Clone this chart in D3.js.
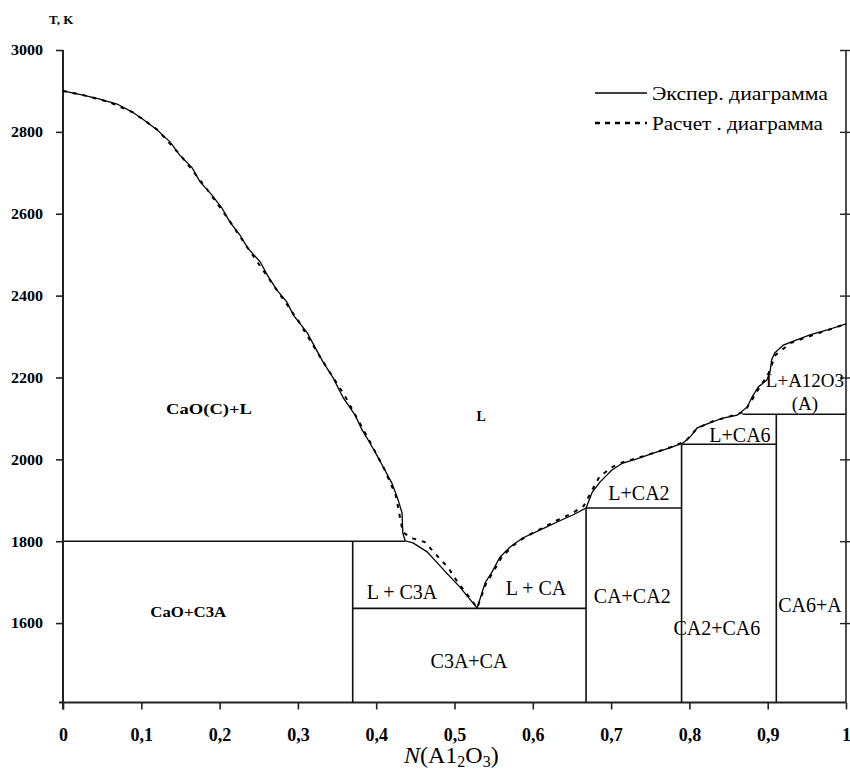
<!DOCTYPE html>
<html>
<head>
<meta charset="utf-8">
<script src="https://cdn.jsdelivr.net/npm/d3@7/dist/d3.min.js"></script>
<style>
  html, body { margin: 0; padding: 0; background: #fff; }
  svg { display: block; }
  text { font-family: "Liberation Serif", "Times New Roman", serif; fill: #000; }
</style>
</head>
<body>
<svg id="chart" width="850" height="771"></svg>
<script>
// Composition axis N(Al2O3) and temperature axis T, K
const nTicks = [0, 0.1, 0.2, 0.3, 0.4, 0.5, 0.6, 0.7, 0.8, 0.9, 1];
const nTickLabels = ["0", "0,1", "0,2", "0,3", "0,4", "0,5", "0,6", "0,7", "0,8", "0,9", "1"];
const tTicks = [1600, 1800, 2000, 2200, 2400, 2600, 2800, 3000];
const tMin = 1406, tMax = 3000;

// Experimental liquidus [N, T]
const experN = [0, 0.0255, 0.047, 0.069, 0.088, 0.102, 0.120, 0.137, 0.149, 0.165, 0.175, 0.190, 0.203, 0.213, 0.226, 0.236, 0.252, 0.261, 0.273, 0.286, 0.294, 0.312, 0.319, 0.332, 0.345, 0.358, 0.373, 0.382, 0.392, 0.402, 0.411, 0.420, 0.428, 0.433, 0.434, 0.437, 0.447, 0.465, 0.478, 0.490, 0.507, 0.517, 0.529,
  0.539, 0.548, 0.558, 0.571, 0.587, 0.609, 0.631, 0.651, 0.668, 0.676, 0.686, 0.701, 0.715, 0.733, 0.754, 0.775, 0.792, 0.801, 0.810, 0.826, 0.843, 0.861, 0.874, 0.880, 0.888, 0.899, 0.903, 0.905, 0.909, 0.920, 0.937, 0.954, 0.976, 1.0];
const experT = [2900, 2890, 2880, 2868, 2849, 2831, 2805, 2775, 2743, 2712, 2678, 2646, 2614, 2580, 2548, 2516, 2482, 2450, 2414, 2384, 2353, 2309, 2284, 2238, 2199, 2150, 2108, 2072, 2040, 2006, 1974, 1942, 1901, 1869, 1820, 1801, 1796, 1774, 1747, 1722, 1688, 1664, 1637,
  1698, 1725, 1761, 1786, 1808, 1827, 1847, 1864, 1881, 1920, 1945, 1974, 1991, 2001, 2015, 2028, 2040, 2055, 2077, 2089, 2101, 2108, 2128, 2152, 2177, 2194, 2213, 2243, 2260, 2279, 2292, 2304, 2316, 2331];

// Calculated liquidus [N, T]
const calcN = [0, 0.03, 0.06, 0.09, 0.12, 0.15, 0.18, 0.21, 0.24, 0.27, 0.30, 0.33, 0.36, 0.39, 0.41, 0.425, 0.434, 0.445, 0.462, 0.479, 0.492, 0.504, 0.517, 0.529,
  0.54, 0.55, 0.56, 0.575, 0.59, 0.61, 0.63, 0.65, 0.665, 0.675, 0.685, 0.70, 0.715, 0.735, 0.755, 0.775, 0.795, 0.81, 0.83, 0.85, 0.87, 0.88, 0.89, 0.90, 0.91, 0.93, 0.96, 1.0];
const calcT = [2900, 2888, 2872, 2847, 2806, 2743, 2670, 2590, 2505, 2422, 2340, 2245, 2155, 2050, 1978, 1912, 1822, 1808, 1798, 1762, 1735, 1700, 1668, 1637,
  1695, 1727, 1760, 1790, 1810, 1830, 1850, 1868, 1886, 1922, 1957, 1980, 1993, 2004, 2016, 2029, 2044, 2076, 2093, 2104, 2116, 2145, 2178, 2205, 2255, 2285, 2305, 2331];

// Phase boundaries: [N1, T1, N2, T2]
const boundaries = [
  [0, 1800, 0.437, 1800],
  [0.37, 1800, 0.37, tMin],
  [0.37, 1636, 0.668, 1636],
  [0.668, 1881, 0.668, tMin],
  [0.668, 1881, 0.79, 1881],
  [0.79, 2037, 0.79, tMin],
  [0.79, 2037, 0.911, 2037],
  [0.911, 2110, 0.911, tMin],
  [0.868, 2110, 1, 2110]
];

// Phase field labels: [text, N, T, size, width]
const fieldLabels = [
  ["CaO(C)+L", 0.1865, 2123, 15, 86],
  ["L", 0.534, 2106, 14, null],
  ["CaO+C3A", 0.160, 1627, 15, 76],
  ["L + C3A", 0.433, 1676, 20, null],
  ["L + CA", 0.604, 1686, 20, null],
  ["C3A+CA", 0.5185, 1507, 20, null],
  ["L+CA2", 0.7356, 1918, 20, null],
  ["CA+CA2", 0.727, 1666, 20, null],
  ["L+CA6", 0.8646, 2059, 20, null],
  ["CA2+CA6", 0.835, 1588, 20, null],
  ["L+A12O3", 0.9476, 2194, 19, null],
  ["(A)", 0.9476, 2138, 19, null],
  ["CA6+A", 0.954, 1644, 20, null]
];

const legendItems = [
  { label: "Экспер. диаграмма", dash: null },
  { label: "Расчет . диаграмма", dash: "5,5" }
];

const svg = d3.select("#chart");
const x = d3.scaleLinear().domain([0, 1]).range([63, 846]);
const y = d3.scaleLinear().domain([tMin, tMax]).range([702.5, 50]);

// Left temperature axis
const yAxis = d3.axisLeft(y).tickValues(tTicks).tickSize(7).tickFormat(d3.format("d"));
const gy = svg.append("g").attr("transform", `translate(${x(0)},0)`).call(yAxis);
gy.select(".domain").attr("d", `M-0,${y(tMax)}V${y(tMin) + 7}`);
gy.selectAll("line").attr("stroke", "#222").attr("stroke-width", 1.6);
gy.select(".domain").attr("stroke", "#222").attr("stroke-width", 2);
gy.selectAll("text")
  .attr("x", -20).attr("dy", "0.35em")
  .style("font-size", "14px").style("font-weight", "bold")
  .attr("textLength", 32).attr("lengthAdjust", "spacingAndGlyphs");

// Right frame with crossing ticks
const gr = svg.append("g").attr("transform", `translate(${x(1)},0)`)
  .call(d3.axisRight(y).tickValues(tTicks).tickSize(5).tickFormat(""));
gr.select(".domain").attr("d", `M0,${y(tMax)}V${y(tMin)}`).attr("stroke", "#222").attr("stroke-width", 1.6);
gr.selectAll(".tick line").attr("x1", -6).attr("x2", 4).attr("stroke", "#222").attr("stroke-width", 1.4);

// Bottom composition axis
const xAxis = d3.axisBottom(x).tickValues(nTicks).tickSize(7).tickFormat((d, i) => nTickLabels[i]);
const gx = svg.append("g").attr("transform", `translate(0,${y(tMin)})`).call(xAxis);
gx.select(".domain").attr("d", `M${x(0) - 4},0H${x(1)}`).attr("stroke", "#222").attr("stroke-width", 2);
gx.selectAll("line").attr("stroke", "#222").attr("stroke-width", 1.6);
gx.selectAll("text").attr("y", 32).attr("dy", "0.35em")
  .style("font-size", "18px").style("font-weight", "bold");

// Axis titles
svg.append("text").attr("x", 49).attr("y", 24)
  .style("font-size", "13px").style("font-weight", "bold").text("T, K");
const xt = svg.append("text").attr("x", 404).attr("y", 763).style("font-size", "24px");
xt.append("tspan").style("font-style", "italic").text("N");
xt.append("tspan").text("(A1");
xt.append("tspan").attr("dy", 4).style("font-size", "16px").text("2");
xt.append("tspan").attr("dy", -4).text("O");
xt.append("tspan").attr("dy", 4).style("font-size", "16px").text("3");
xt.append("tspan").attr("dy", -4).text(")");

// Phase boundaries
svg.append("g").selectAll("line").data(boundaries).join("line")
  .attr("x1", d => x(d[0])).attr("y1", d => y(d[1]))
  .attr("x2", d => x(d[2])).attr("y2", d => y(d[3]))
  .attr("stroke", "#111").attr("stroke-width", 1.6);

// Liquidus curves
const line = d3.line().x(d => x(d[0])).y(d => y(d[1]));
svg.append("path").datum(calcN.map((n, i) => [n, calcT[i]]))
  .attr("d", line).attr("fill", "none").attr("stroke", "#000")
  .attr("stroke-width", 2).attr("stroke-dasharray", "4,6");
svg.append("path").datum(experN.map((n, i) => [n, experT[i]]))
  .attr("d", line).attr("fill", "none").attr("stroke", "#000").attr("stroke-width", 1.3);

// Field labels
const fl = svg.append("g").selectAll("text").data(fieldLabels).join("text")
  .attr("x", d => x(d[1])).attr("y", d => y(d[2]))
  .attr("text-anchor", "middle").attr("dy", "0.35em")
  .style("font-size", d => d[3] + "px")
  .style("font-weight", d => d[3] < 16 ? "bold" : "normal")
  .text(d => d[0]);
fl.filter(d => d[4]).attr("textLength", d => d[4]).attr("lengthAdjust", "spacingAndGlyphs");

// Legend
const lg = svg.append("g");
legendItems.forEach((it, i) => {
  const yy = 93 + i * 30;
  lg.append("line").attr("x1", 595).attr("x2", 647).attr("y1", yy).attr("y2", yy)
    .attr("stroke", "#000").attr("stroke-width", it.dash ? 2.5 : 1.3)
    .attr("stroke-dasharray", it.dash);
  lg.append("text").attr("x", 652).attr("y", yy).attr("dy", "0.35em")
    .style("font-size", "19px")
    .attr("textLength", i === 0 ? 176 : 171).attr("lengthAdjust", "spacingAndGlyphs")
    .text(it.label);
});
</script>
</body>
</html>
